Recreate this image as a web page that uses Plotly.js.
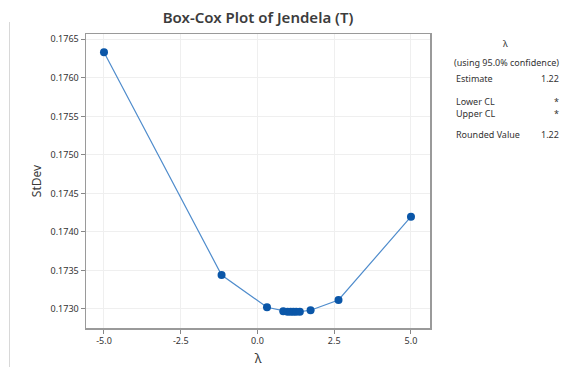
<!DOCTYPE html>
<html>
<head>
<meta charset="utf-8">
<script src="https://cdn.plot.ly/plotly-3.0.1.min.js"></script>
<style>
html,body{margin:0;padding:0;background:#fff;}
#chart{width:572px;height:367px;}
</style>
</head>
<body>
<div id="chart"></div>
<script>
// Data
const lambdaValues = [-5.0, -1.17, 0.31, 0.84, 0.98, 1.08, 1.17, 1.26, 1.38, 1.73, 2.64, 5.0];
const stdevValues = [0.176332, 0.173441, 0.173022, 0.172970, 0.172965, 0.172964, 0.172963, 0.172964, 0.172965, 0.172983, 0.173117, 0.174198];

const xTickVals = [-5, -2.5, 0, 2.5, 5];
const xTickText = ["-5.0", "-2.5", "0.0", "2.5", "5.0"];
const yTickVals = [0.1730, 0.1735, 0.1740, 0.1745, 0.1750, 0.1755, 0.1760, 0.1765];
const yTickText = ["0.1730", "0.1735", "0.1740", "0.1745", "0.1750", "0.1755", "0.1760", "0.1765"];

const statLabels = ["Estimate", "Lower CL", "Upper CL", "Rounded Value"];
const statValues = ["1.22", "*", "*", "1.22"];
const statRows = [79, 101, 114, 134]; // pixel rows in the side panel

const FONT = "Noto Sans, Open Sans, sans-serif";
const W = 572, H = 367;
const ML = 86, MR = 142, MT = 34, MB = 39;
const PW = W - ML - MR, PH = H - MT - MB;
// convert figure pixels to paper coordinates (relative to plot area)
function px(xp){ return (xp - ML) / PW; }
function py(yp){ return (H - MB - yp) / PH; }

const annotations = [
  {text: "λ", x: px(505), y: py(43), xref: "paper", yref: "paper", showarrow: false, xanchor: "center", yanchor: "middle", font: {family: FONT, size: 9, color: "#333"}},
  {text: "(using 95.0% confidence)", x: px(506), y: py(62), xref: "paper", yref: "paper", showarrow: false, xanchor: "center", yanchor: "middle", font: {family: FONT, size: 9, color: "#333"}}
];
statLabels.forEach((lab, i) => {
  annotations.push({text: lab, x: px(454), y: py(statRows[i]), xref: "paper", yref: "paper", showarrow: false, xanchor: "left", yanchor: "middle", font: {family: FONT, size: 9, color: "#333"}});
  annotations.push({text: statValues[i], x: px(561), y: py(statRows[i]), xref: "paper", yref: "paper", showarrow: false, xanchor: "right", yanchor: "middle", font: {family: FONT, size: 9, color: "#333"}});
});

const trace = {
  x: lambdaValues,
  y: stdevValues,
  type: "scatter",
  mode: "lines+markers",
  line: {color: "#4f8ccc", width: 1.2},
  marker: {color: "#0a56a8", size: 8},
  hoverinfo: "skip"
};

const layout = {
  width: W, height: H,
  margin: {l: ML, r: MR, t: MT, b: MB, pad: 0},
  paper_bgcolor: "#fff",
  plot_bgcolor: "#fff",
  showlegend: false,
  title: {text: "Box-Cox Plot of Jendela (T)", x: 258 / W, xanchor: "center", y: 1 - 18 / H, yanchor: "middle", font: {family: FONT, size: 15, color: "#3c3c3c", weight: 600}},
  xaxis: {
    range: [-5.586, 5.62],
    tickvals: xTickVals, ticktext: xTickText,
    ticks: "outside", ticklen: 4, tickcolor: "#888",
    tickfont: {family: FONT, size: 9, color: "#333"},
    showgrid: true, gridcolor: "#efefef", gridwidth: 1,
    zeroline: false,
    showline: true, linecolor: "#9a9a9a", linewidth: 1.5, mirror: true,
    title: {text: "λ", font: {family: FONT, size: 13, color: "#3a3a3a"}, standoff: 10}
  },
  yaxis: {
    range: [0.172753, 0.176569],
    tickvals: yTickVals, ticktext: yTickText,
    ticks: "outside", ticklen: 4, tickcolor: "#888",
    tickfont: {family: FONT, size: 9, color: "#333"},
    showgrid: true, gridcolor: "#efefef", gridwidth: 1,
    zeroline: false,
    showline: true, linecolor: "#9a9a9a", linewidth: 1.5, mirror: true,
    title: {text: "StDev", font: {family: FONT, size: 12, color: "#3a3a3a"}, standoff: 6}
  },
  shapes: [
    {type: "line", xref: "paper", yref: "paper", x0: px(9.5), x1: px(9.5), y0: py(22), y1: py(H), line: {color: "#d8d8d8", width: 1}}
  ],
  annotations: annotations
};

Plotly.newPlot("chart", [trace], layout, {staticPlot: true, displayModeBar: false});
</script>
</body>
</html>
